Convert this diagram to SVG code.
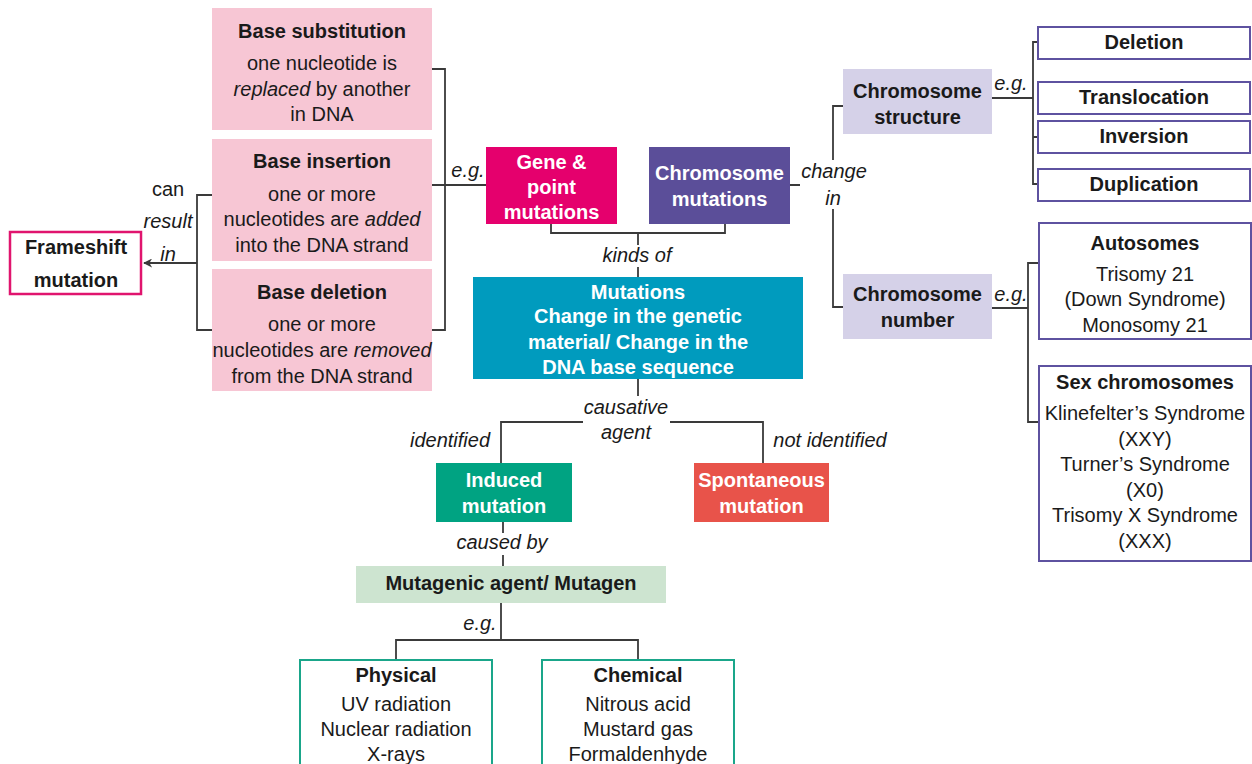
<svg xmlns="http://www.w3.org/2000/svg" width="1252" height="764" viewBox="0 0 1252 764">
<style>
text{font-family:"Liberation Sans",Arial,sans-serif;font-size:20px;fill:#1a1a1a;text-anchor:middle}
.b{font-weight:bold}
.w{fill:#fff;font-weight:bold}
.i{font-style:italic}
.ln{fill:none;stroke:#3a3a3a;stroke-width:1.8}
.pk{fill:#f7c6d4}
.pbox{fill:#fff;stroke:#5e52a0;stroke-width:2}
.gbox{fill:#fff;stroke:#1aa68a;stroke-width:2}
</style>
<defs>
<marker id="ah" viewBox="0 0 10 10" refX="9" refY="5" markerWidth="9" markerHeight="9" markerUnits="userSpaceOnUse" orient="auto">
<path d="M0,0 L10,5 L0,10 L3,5 Z" fill="#3a3a3a"/>
</marker>
</defs>
<g id="connectors">
<path class="ln" d="M432,69 H445 V330 H432 M432,185 H486"/>
<path class="ln" d="M212,195 H197 V330 H212 M197,263 H144" marker-end="url(#ah)"/>
<path class="ln" d="M551,224 V233 H725 V224 M638,233 V245 M638,267 V277"/>
<path class="ln" d="M638,379 V396 M501,463 V422 H583 M670,422 H763 V463"/>
<path class="ln" d="M503,522 V533 M503,555 V566 M501,603 V640 M396,660 V640 H638 V660"/>
<path class="ln" d="M790,185 H800 M843,106 H833 V160 M833,209 V307 H843"/>
<path class="ln" d="M992,98 H1033 M1038,42 H1033 V184 H1038 M1033,137 H1038"/>
<path class="ln" d="M992,308 H1028 M1038,263 H1028 V422 H1038"/>
</g>
<g id="base-substitution">
<rect class="pk" x="212" y="8" width="220" height="122"/>
<text class="b" x="322" y="38">Base substitution</text>
<text x="322" y="70">one nucleotide is</text>
<text x="322" y="96"><tspan class="i">replaced</tspan> by another</text>
<text x="322" y="121">in DNA</text>
</g>
<g id="base-insertion">
<rect class="pk" x="212" y="139" width="220" height="122"/>
<text class="b" x="322" y="168">Base insertion</text>
<text x="322" y="201">one or more</text>
<text x="322" y="226">nucleotides are <tspan class="i">added</tspan></text>
<text x="322" y="252">into the DNA strand</text>
</g>
<g id="base-deletion">
<rect class="pk" x="212" y="269" width="220" height="122"/>
<text class="b" x="322" y="299">Base deletion</text>
<text x="322" y="331">one or more</text>
<text x="322" y="357">nucleotides are <tspan class="i">removed</tspan></text>
<text x="322" y="383">from the DNA strand</text>
</g>
<g id="frameshift">
<rect x="10" y="232" width="131" height="62" fill="#fff" stroke="#e0146e" stroke-width="2.5"/>
<text class="b" x="76" y="254">Frameshift</text>
<text class="b" x="76" y="287">mutation</text>
</g>
<g id="labels">
<text x="168" y="196">can</text>
<text class="i" x="168" y="228">result</text>
<text class="i" x="168" y="261">in</text>
<text class="i" x="468" y="177">e.g.</text>
<text class="i" x="637" y="262">kinds of</text>
<text class="i" x="834" y="178">change</text>
<text class="i" x="833" y="205">in</text>
<text class="i" x="1011" y="90">e.g.</text>
<text class="i" x="1011" y="301">e.g.</text>
<text class="i" x="626" y="414">causative</text>
<text class="i" x="626" y="439">agent</text>
<text class="i" x="450" y="447">identified</text>
<text class="i" x="830" y="447">not identified</text>
<text class="i" x="502" y="549">caused by</text>
<text class="i" x="480" y="630">e.g.</text>
</g>
<g id="gene-point">
<rect x="486" y="147" width="131" height="77" fill="#e5006d"/>
<text class="w" x="551.5" y="169">Gene &amp;</text>
<text class="w" x="551.5" y="194">point</text>
<text class="w" x="551.5" y="219">mutations</text>
</g>
<g id="chromosome-mutations">
<rect x="649" y="147" width="141" height="77" fill="#5b4e99"/>
<text class="w" x="719.5" y="180">Chromosome</text>
<text class="w" x="719.5" y="206">mutations</text>
</g>
<g id="mutations">
<rect x="473" y="277" width="330" height="102" fill="#009bbe"/>
<text class="w" x="638" y="299">Mutations</text>
<text class="w" x="638" y="323">Change in the genetic</text>
<text class="w" x="638" y="349">material/ Change in the</text>
<text class="w" x="638" y="374">DNA base sequence</text>
</g>
<g id="chromosome-structure">
<rect x="843" y="69" width="149" height="65" fill="#d5d1e8"/>
<text class="b" x="917.5" y="98">Chromosome</text>
<text class="b" x="917.5" y="124">structure</text>
</g>
<g id="chromosome-number">
<rect x="843" y="274" width="149" height="65" fill="#d5d1e8"/>
<text class="b" x="917.5" y="301">Chromosome</text>
<text class="b" x="917.5" y="327">number</text>
</g>
<g id="deletion">
<rect class="pbox" x="1038" y="27" width="212" height="32"/>
<text class="b" x="1144" y="49">Deletion</text>
</g>
<g id="translocation">
<rect class="pbox" x="1038" y="82" width="212" height="32"/>
<text class="b" x="1144" y="104">Translocation</text>
</g>
<g id="inversion">
<rect class="pbox" x="1038" y="121" width="212" height="32"/>
<text class="b" x="1144" y="143">Inversion</text>
</g>
<g id="duplication">
<rect class="pbox" x="1038" y="169" width="212" height="32"/>
<text class="b" x="1144" y="191">Duplication</text>
</g>
<g id="autosomes">
<rect class="pbox" x="1039" y="223" width="212" height="116"/>
<text class="b" x="1145" y="250">Autosomes</text>
<text x="1145" y="281">Trisomy 21</text>
<text x="1145" y="306">(Down Syndrome)</text>
<text x="1145" y="332">Monosomy 21</text>
</g>
<g id="sex-chromosomes">
<rect class="pbox" x="1039" y="366" width="212" height="195"/>
<text class="b" x="1145" y="389">Sex chromosomes</text>
<text x="1145" y="420">Klinefelter’s Syndrome</text>
<text x="1145" y="446">(XXY)</text>
<text x="1145" y="471">Turner’s Syndrome</text>
<text x="1145" y="497">(X0)</text>
<text x="1145" y="522">Trisomy X Syndrome</text>
<text x="1145" y="548">(XXX)</text>
</g>
<g id="induced">
<rect x="436" y="463" width="136" height="59" fill="#00a382"/>
<text class="w" x="504" y="487">Induced</text>
<text class="w" x="504" y="513">mutation</text>
</g>
<g id="spontaneous">
<rect x="694" y="463" width="135" height="59" fill="#e8534a"/>
<text class="w" x="761.5" y="487">Spontaneous</text>
<text class="w" x="761.5" y="513">mutation</text>
</g>
<g id="mutagen">
<rect x="356" y="566" width="310" height="37" fill="#cde4d0"/>
<text class="b" x="511" y="590">Mutagenic agent/ Mutagen</text>
</g>
<g id="physical">
<rect class="gbox" x="300" y="660" width="192" height="120"/>
<text class="b" x="396" y="682">Physical</text>
<text x="396" y="711">UV radiation</text>
<text x="396" y="736">Nuclear radiation</text>
<text x="396" y="761">X-rays</text>
</g>
<g id="chemical">
<rect class="gbox" x="542" y="660" width="192" height="120"/>
<text class="b" x="638" y="682">Chemical</text>
<text x="638" y="711">Nitrous acid</text>
<text x="638" y="736">Mustard gas</text>
<text x="638" y="761">Formaldenhyde</text>
</g>
</svg>
